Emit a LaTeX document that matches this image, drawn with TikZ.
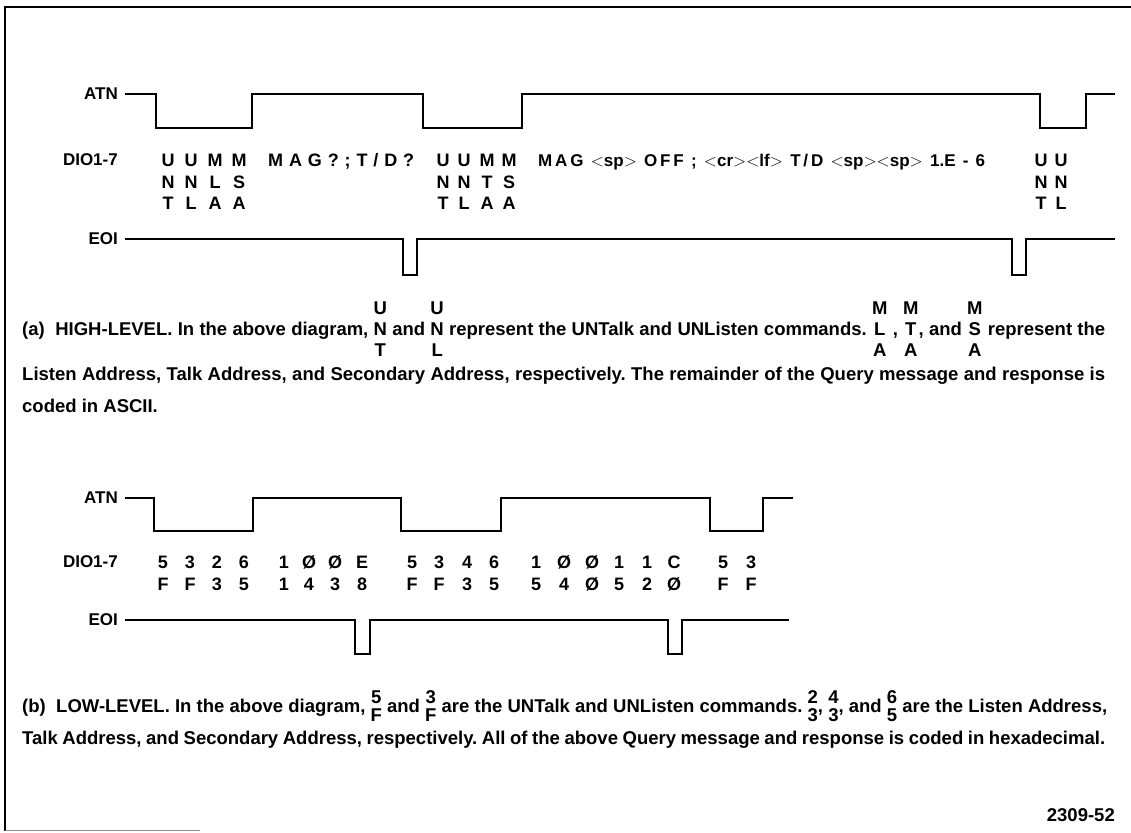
\documentclass[tikz,border=0pt]{standalone}
\usepackage{fontspec}
\setmainfont{Liberation Sans}
\frenchspacing
\newcommand\stk[3]{\ooalign{\hfil\smash{\raisebox{1.16em}{#1}}\hfil\cr\hfil#2\hfil\cr\hfil\smash{\raisebox{-1.16em}{#3}}\hfil\cr}}
\newcommand\frc[2]{\ooalign{\hfil\smash{\raisebox{0.47em}{#1}}\hfil\cr\hfil\smash{\raisebox{-0.47em}{#2}}\hfil\cr}}
\begin{document}
\begin{tikzpicture}[x=1pt,y=-1pt,
  sig/.style={line width=1.6pt, black},
  framel/.style={line width=1.2pt, black},
  lbl/.style={font=\bfseries\fontsize{17}{17}\selectfont, inner sep=0, anchor=east},
  dio/.style={font=\bfseries\fontsize{18}{18}\selectfont, inner sep=0, anchor=base},
  captxt/.style={font=\bfseries\fontsize{18.5}{18.5}\selectfont, inner sep=0, anchor=base west}]
\useasboundingbox (0,0) rectangle (1131,832);
% frame
\draw[framel] (5,831) -- (5,7) -- (1131,7);
\draw[line width=1pt, black!45] (5,830) -- (200,830);

% ---------------- diagram (a)
\node[lbl] (atnA) at (118,94) {ATN};
\node[lbl] (dioA) at (118,160) {DIO1-7};
\node[lbl] (eoiA) at (118,239) {EOI};
\draw[sig] (125,94) -- (156,94) -- (156,128) -- (252,128) -- (252,94) -- (423,94) -- (423,128) -- (522,128) -- (522,94) -- (1040,94) -- (1040,128) -- (1086,128) -- (1086,94) -- (1115,94);
\draw[sig] (125,239) -- (403,239) -- (403,275) -- (417,275) -- (417,239) -- (1012,239) -- (1012,275) -- (1026,275) -- (1026,239) -- (1115,239);
\foreach \x/\a/\b/\c [count=\i] in {168/U/N/T,191/U/N/L,215/M/L/A,239/M/S/A,443/U/N/T,464/U/N/L,487/M/T/A,509/M/S/A,1041/U/N/T,1061/U/N/L}{
  \node[dio] (ra\i) at (\x,166.5) {\a};
  \node[dio] (rb\i) at (\x,188.5) {\b};
  \node[dio] (rc\i) at (\x,209.5) {\c};
}
\node[dio, anchor=base west] (msgA) at (268,166.5) {\makebox[146pt][s]{M A G ? ; T / D ?}};
\node[dio, anchor=base west, font=\bfseries\fontsize{17}{17}\selectfont] (respA) at (538,166.5) {\makebox[447pt][s]{M\,A\,G $<$sp$>$ O\,F\,F ; $<$cr$>$$<$lf$>$ T\,/\,D $<$sp$>$$<$sp$>$ 1.E - 6}};

% caption (a)
\node[captxt] (capA1) at (22,335.5) {\makebox[1083pt][s]{(a)\ \ HIGH-LEVEL. In the above diagram, \stk{U}{N}{T} and \stk{U}{N}{L} represent the UNTalk and UNListen commands. \stk{M}{L}{A} , \stk{M}{T}{A}, and \stk{M}{S}{A} represent the}};
\node[captxt] (capA2) at (22,380.5) {\makebox[1083pt][s]{Listen Address, Talk Address, and Secondary Address, respectively. The remainder of the Query message and response is}};
\node[captxt] (capA3) at (22,412.5) {coded in ASCII.};

% ---------------- diagram (b)
\node[lbl] (atnB) at (118,498) {ATN};
\node[lbl] (dioB) at (118,562) {DIO1-7};
\node[lbl] (eoiB) at (118,620) {EOI};
\draw[sig] (125,498) -- (154,498) -- (154,531) -- (253,531) -- (253,498) -- (401,498) -- (401,531) -- (501,531) -- (501,498) -- (710,498) -- (710,531) -- (763,531) -- (763,498) -- (793,498);
\draw[sig] (125,620) -- (355,620) -- (355,654) -- (370,654) -- (370,620) -- (668,620) -- (668,654) -- (682,654) -- (682,620) -- (789,620);
\foreach \x/\a/\b [count=\i] in {163/5/F,190/3/F,217/2/3,244/6/5,284/1/1,309/Ø/4,335/Ø/3,362/E/8,412/5/F,439/3/F,467/4/3,494/6/5,536/1/5,564/Ø/4,592/Ø/Ø,619/1/5,647/1/2,674/C/Ø,723/5/F,751/3/F}{
  \node[dio] (ha\i) at (\x,568.5) {\a};
  \node[dio] (hb\i) at (\x,590.5) {\b};
}

% caption (b)
\node[captxt] (capB1) at (22,712.5) {\makebox[1085pt][s]{(b)\ \ LOW-LEVEL. In the above diagram, \frc{5}{F} and \frc{3}{F} are the UNTalk and UNListen commands. \frc{2}{3}, \frc{4}{3}, and \frc{6}{5} are the Listen Address,}};
\node[captxt] (capB2) at (22,744.5) {\makebox[1083pt][s]{Talk Address, and Secondary Address, respectively. All of the above Query message and response is coded in hexadecimal.}};

\node[captxt, anchor=base east] (fig) at (1115,821) {2309-52};
\end{tikzpicture}
\end{document}
